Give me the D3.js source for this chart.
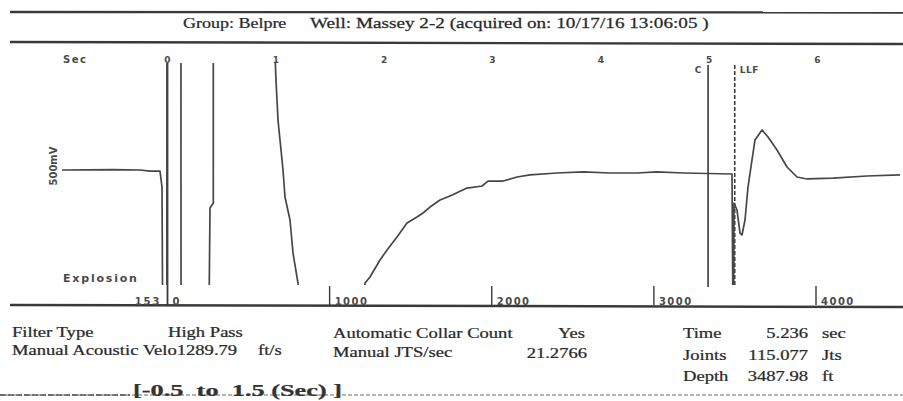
<!DOCTYPE html>
<html><head><meta charset="utf-8">
<script src="https://cdn.jsdelivr.net/npm/d3@7"></script>
<style>html,body{margin:0;padding:0;background:#fff;} svg{display:block}</style>
</head><body>
<script>
// ---- data ----
// acoustic trace: time (sec) and amplitude (full scale = ±1; beyond is off-scale / clipped)
const sigTime = [-0.974,-0.5,-0.254,-0.1615,-0.0692,-0.0508,-0.0462,-0.045,-0.006,-0.005,0.124,0.125,
  0.385,0.3858,0.3923,0.4228,0.4229,0.992,0.9923,1.0015,1.0108,1.0200,1.0385,1.0662,1.0846,1.1308,1.1585,1.2046,1.21,
  1.82,1.8231,1.8692,1.9615,2.0262,2.1185,2.2108,2.3031,2.3585,2.4231,2.5154,2.6077,2.7646,2.9031,2.9585,3.0969,
  3.2262,3.3462,3.5954,3.8354,4.0846,4.3338,4.5185,4.7585,5.2108,5.2200,5.2250,5.2292,5.2569,5.2846,5.3031,5.3308,
  5.3585,5.3954,5.4231,5.4877,5.5431,5.6262,5.7185,5.8108,5.9031,6.1431,6.4569,6.7615];
const sigAmp = [0,0.004,0,-0.009,-0.009,-0.148,-0.983,-1.3,-1.3,1.3,1.3,-1.3,
  -1.3,-0.983,-0.330,-0.287,1.3,1.3,1.0,0.783,0.609,0.435,0.261,0,-0.235,-0.435,-0.722,-0.983,-1.3,
  -1.3,-0.983,-0.930,-0.783,-0.696,-0.583,-0.461,-0.409,-0.374,-0.322,-0.261,-0.226,-0.157,-0.139,-0.096,-0.096,
  -0.061,-0.043,-0.026,-0.017,-0.026,-0.026,-0.017,-0.026,-0.035,-1.3,-1.3,-0.287,-0.348,-0.548,-0.565,-0.435,
  -0.148,0.087,0.261,0.348,0.287,0.174,0.026,-0.061,-0.078,-0.070,-0.052,-0.043];

const timeTicks = [0,1,2,3,4,5,6];
const timeTickLabels = ["0","1","2","3","4","5","6"];
const depthTicks = [1000,2000,3000,4000];
const depthTickLabels = ["1000","2000","3000","4000"];
const markerNames = ["C","F"];
const markerTimes = [4.99,5.236];
const markerLabels = ["C","LLF"];

const headerLeft = "Group: Belpre";
const headerRight = "Well: Massey 2-2 (acquired on: 10/17/16 13:06:05 )";
const infoRow1 = ["Filter Type","High Pass","Automatic Collar Count","Yes"];
const infoRow2 = ["Manual Acoustic Velo1289.79","ft/s","Manual JTS/sec","21.2766"];
const resultNames = ["Time","Joints","Depth"];
const resultValues = ["5.236","115.077","3487.98"];
const resultUnits = ["sec","Jts","ft"];
const footer = "[-0.5  to  1.5 (Sec) ]";

// ---- drawing ----
const W=903,H=401;
const ink="#3a3a3a";
const svg=d3.select("body").append("svg").attr("width",W).attr("height",H);
svg.append("rect").attr("width",W).attr("height",H).attr("fill","#fff");

const x=d3.scaleLinear().domain([0,6]).range([167.5,817.5]);
const xd=d3.scaleLinear().domain([0,4000]).range([167.5,816]);
const y=d3.scaleLinear().domain([-1,1]).range([285,55]);
const plotTop=63, axisY=305;

function serif(g,str,px,py,opt={}){
  const t=g.append("text").attr("transform",`translate(${px},${py}) scale(${opt.sx||1.24},1)`)
   .attr("font-family","'Liberation Serif','Times New Roman',serif")
   .attr("font-size",opt.size||15).attr("fill",opt.fill||"#2a2a2a")
   .attr("stroke",opt.fill||"#2a2a2a").attr("stroke-width",0.25)
   .attr("text-anchor",opt.anchor||"start").text(str);
  if(opt.bold) t.attr("font-weight","bold");
  if(opt.pre) t.style("white-space","pre");
  return t;
}
function sans(str,px,py,opt={}){
  return svg.append("text").attr("x",px).attr("y",py)
   .attr("font-family","'DejaVu Sans',sans-serif").attr("font-weight","bold")
   .attr("font-size",opt.size||9).attr("fill",opt.fill||"#4a4a4a")
   .attr("letter-spacing",opt.ls||0).attr("text-anchor",opt.anchor||"start")
   .attr("transform",opt.transform||null).text(str);
}

// header frame lines
svg.append("line").attr("x1",10).attr("x2",W).attr("y1",12).attr("y2",12.5).attr("stroke",ink).attr("stroke-width",2.4);
svg.append("line").attr("x1",10).attr("x2",W).attr("y1",42).attr("y2",44).attr("stroke",ink).attr("stroke-width",2.4);
serif(svg,headerLeft,183,28,{sx:1.2});
serif(svg,headerRight,310,28,{sx:1.28});

// time axis labels
sans("Sec",63,63,{size:10,ls:1.5});
svg.selectAll("text.tt").data(timeTicks).enter().append("text").attr("class","tt")
  .attr("x",d=>x(d)).attr("y",63).attr("text-anchor","middle")
  .attr("font-family","'DejaVu Sans',sans-serif").attr("font-weight","bold").attr("font-size",9)
  .attr("fill","#4a4a4a").text((d,i)=>timeTickLabels[i]);

// y label & explosion label
sans("500mV",0,0,{size:10,anchor:"middle",transform:"translate(57,166) rotate(-90)"});
sans("Explosion",63,282,{size:11,ls:1.8});

// clip for trace
svg.append("clipPath").attr("id","clip").append("rect")
  .attr("x",0).attr("y",plotTop).attr("width",W).attr("height",y(-1)-plotTop);

// zero marker line (through to depth axis)
svg.append("line").attr("x1",x(0)).attr("x2",x(0)).attr("y1",plotTop).attr("y2",axisY)
  .attr("stroke",ink).attr("stroke-width",1.8);

// marker lines C and F
markerTimes.forEach((t,i)=>{
  svg.append("line").attr("x1",x(t)).attr("x2",x(t)).attr("y1",plotTop+2).attr("y2",287)
    .attr("stroke",ink).attr("stroke-width",1.6)
    .attr("stroke-dasharray",markerNames[i]==="F"?"4,2":null);
});
sans(markerLabels[0],x(markerTimes[0])-10,73,{size:9,anchor:"middle"});
sans(markerLabels[1],x(markerTimes[1])+5,73,{size:9,ls:0.5});

// trace
const pts=sigTime.map((t,i)=>[t,sigAmp[i]]);
svg.append("path").attr("clip-path","url(#clip)")
  .attr("d",d3.line().x(d=>x(d[0])).y(d=>y(d[1]))(pts))
  .attr("fill","none").attr("stroke","#474747").attr("stroke-width",1.7).attr("stroke-linejoin","round");

// depth axis
svg.append("line").attr("x1",10).attr("x2",W).attr("y1",axisY).attr("y2",axisY+2).attr("stroke",ink).attr("stroke-width",2.5);
svg.selectAll("line.dt").data(depthTicks).enter().append("line").attr("class","dt")
  .attr("x1",d=>xd(d)).attr("x2",d=>xd(d)).attr("y1",286).attr("y2",axisY)
  .attr("stroke",ink).attr("stroke-width",1.4);
svg.selectAll("text.dl").data(depthTicks).enter().append("text").attr("class","dl")
  .attr("x",d=>xd(d)+5).attr("y",axisY).attr("font-family","'DejaVu Sans',sans-serif")
  .attr("font-weight","bold").attr("font-size",10).attr("letter-spacing",1.5).attr("fill","#4a4a4a")
  .text((d,i)=>depthTickLabels[i]);
sans("0",xd(0)+5,axisY,{size:10});
sans("153",xd(0)-6,axisY,{size:10,ls:2,anchor:"end"});

// info block
serif(svg,infoRow1[0],12,337);
serif(svg,infoRow1[1],168,337);
serif(svg,infoRow1[2],333,338);
serif(svg,infoRow1[3],585,338,{anchor:"end"});
serif(svg,infoRow2[0],12,355);
serif(svg,infoRow2[1],258,355);
serif(svg,infoRow2[2],333,357);
serif(svg,infoRow2[3],587,358,{anchor:"end"});
resultNames.forEach((n,i)=>{
  const yy=338+i*21.5;
  serif(svg,n,683,yy);
  serif(svg,resultValues[i],808,yy,{anchor:"end"});
  serif(svg,resultUnits[i],822,yy);
});

// footer
svg.append("line").attr("x1",0).attr("x2",W).attr("y1",395).attr("y2",395)
  .attr("stroke","#9a9a9a").attr("stroke-width",1.4).attr("stroke-dasharray","4,2");
svg.append("line").attr("x1",0).attr("x2",130).attr("y1",395).attr("y2",395)
  .attr("stroke","#555").attr("stroke-width",1.6).attr("stroke-dasharray","6,2");
serif(svg,footer,133,396,{size:17,bold:true,sx:1.55,pre:true,fill:"#333"});
</script>
</body></html>
